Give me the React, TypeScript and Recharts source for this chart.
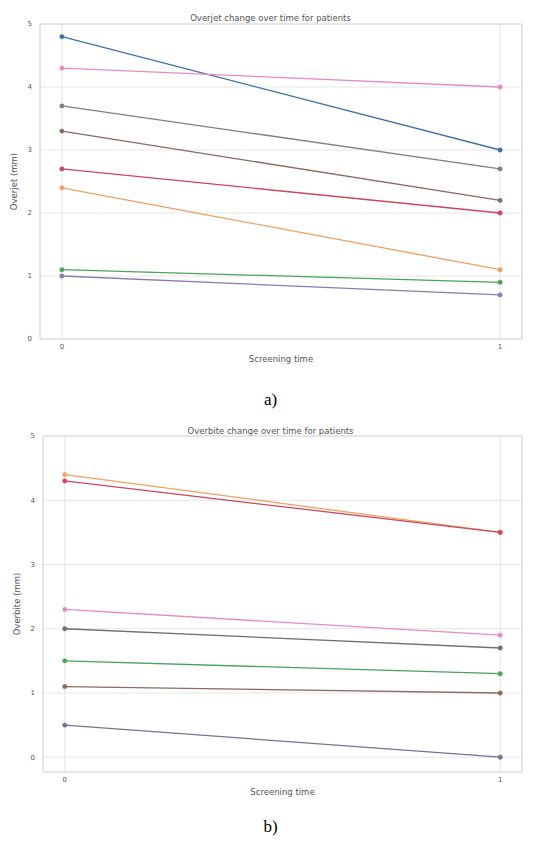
import { LineChart, Line, XAxis, YAxis, CartesianGrid, ReferenceArea } from 'recharts';

const screeningTimes = [0, 1];
const yTicks = [0, 1, 2, 3, 4, 5];

// overjet (mm) per patient, at screening 0 and 1
const overjetBlue = [4.8, 3.0];
const overjetOrange = [2.4, 1.1];
const overjetGreen = [1.1, 0.9];
const overjetRed = [2.7, 2.0];
const overjetPurple = [1.0, 0.7];
const overjetBrown = [3.3, 2.2];
const overjetPink = [4.3, 4.0];
const overjetGray = [3.7, 2.7];

// overbite (mm) per patient
const overbiteOrange = [4.4, 3.5];
const overbiteRed = [4.3, 3.5];
const overbitePink = [2.3, 1.9];
const overbiteGray = [2.0, 1.7];
const overbiteGreen = [1.5, 1.3];
const overbiteBrown = [1.1, 1.0];
const overbitePurple = [0.5, 0.0];

const FONT = '"DejaVu Sans", sans-serif';
const TXT = '#555';

type Series = { key: string; color: string; values: number[] };

const overjetSeries: Series[] = [
  { key: 'blue', color: '#3f6fa8', values: overjetBlue },
  { key: 'orange', color: '#f0a060', values: overjetOrange },
  { key: 'green', color: '#49a35a', values: overjetGreen },
  { key: 'red', color: '#d0455a', values: overjetRed },
  { key: 'purple', color: '#8a7aad', values: overjetPurple },
  { key: 'brown', color: '#8c6a5e', values: overjetBrown },
  { key: 'pink', color: '#e58ac8', values: overjetPink },
  { key: 'gray', color: '#7f7f7f', values: overjetGray },
];

const overbiteSeries: Series[] = [
  { key: 'purple', color: '#7a6f96', values: overbitePurple },
  { key: 'brown', color: '#8c6a5e', values: overbiteBrown },
  { key: 'green', color: '#49a35a', values: overbiteGreen },
  { key: 'gray', color: '#6f6f6f', values: overbiteGray },
  { key: 'pink', color: '#e58ac8', values: overbitePink },
  { key: 'orange', color: '#f0a060', values: overbiteOrange },
  { key: 'red', color: '#d0455a', values: overbiteRed },
];

function buildRows(series: Series[]) {
  return screeningTimes.map((t, i) => {
    const row: Record<string, number> = { time: t };
    series.forEach((s) => (row[s.key] = s.values[i]));
    return row;
  });
}

interface PanelProps {
  series: Series[];
  yLabel: string;
  yMin: number;
  top: number;
  height: number;
  marginTop: number;
  marginLeft: number;
}

function PatientPanel({ series, yLabel, yMin, top, height, marginTop, marginLeft }: PanelProps) {
  return (
    <div style={{ position: 'absolute', left: 0, top }}>
      <LineChart
        width={541}
        height={height}
        data={buildRows(series)}
        margin={{ top: marginTop, right: 19, bottom: 0, left: marginLeft }}
      >
        <CartesianGrid stroke="#e6e6e6" strokeWidth={1} />
        <ReferenceArea
          x1={-0.05}
          x2={1.05}
          y1={yMin}
          y2={5}
          fill="none"
          stroke="#d8d8d8"
          strokeWidth={1}
          ifOverflow="visible"
        />
        <XAxis
          dataKey="time"
          type="number"
          domain={[-0.05, 1.05]}
          ticks={[0, 1]}
          axisLine={false}
          tickLine={false}
          tickSize={3}
          tick={{ fontSize: 7, fill: TXT, fontFamily: FONT }}
          height={32}
          label={{
            value: 'Screening time',
            position: 'insideBottom',
            offset: 9,
            style: { fontSize: 8.5, fill: TXT, fontFamily: FONT },
          }}
        />
        <YAxis
          type="number"
          domain={[yMin, 5]}
          ticks={yTicks}
          axisLine={false}
          tickLine={false}
          width={30}
          tick={{ fontSize: 7, fill: TXT, fontFamily: FONT }}
          label={{
            value: yLabel,
            angle: -90,
            position: 'insideLeft',
            offset: 4,
            style: { fontSize: 8.5, fill: TXT, fontFamily: FONT, textAnchor: 'middle' },
          }}
        />
        {series.map((s) => (
          <Line
            key={s.key}
            dataKey={s.key}
            stroke={s.color}
            strokeWidth={1.3}
            dot={{ r: 2.2, fill: s.color, stroke: s.color, strokeWidth: 0.5 }}
            isAnimationActive={false}
          />
        ))}
      </LineChart>
    </div>
  );
}

const titleStyle: React.CSSProperties = {
  position: 'absolute',
  left: 0,
  width: 541,
  textAlign: 'center',
  fontFamily: FONT,
  fontSize: 8.5,
  color: TXT,
  lineHeight: '10px',
};

const captionStyle: React.CSSProperties = {
  position: 'absolute',
  left: 0,
  width: 541,
  textAlign: 'center',
  fontFamily: '"Liberation Serif", "Times New Roman", serif',
  fontSize: 17,
  color: '#000',
  lineHeight: '20px',
};

export default function App() {
  return (
    <div style={{ position: 'absolute', left: 0, top: 0, width: 541, height: 841, background: '#fff' }}>
      <div style={{ ...titleStyle, top: 13 }}>Overjet change over time for patients</div>
      <PatientPanel
        series={overjetSeries}
        yLabel="Overjet (mm)"
        yMin={0}
        top={0}
        height={371}
        marginTop={24}
        marginLeft={10}
      />
      <div style={{ ...captionStyle, top: 390 }}>a)</div>

      <div style={{ ...titleStyle, top: 426 }}>Overbite change over time for patients</div>
      <PatientPanel
        series={overbiteSeries}
        yLabel="Overbite (mm)"
        yMin={-0.23}
        top={400}
        height={404}
        marginTop={36}
        marginLeft={13}
      />
      <div style={{ ...captionStyle, top: 817 }}>b)</div>
    </div>
  );
}
